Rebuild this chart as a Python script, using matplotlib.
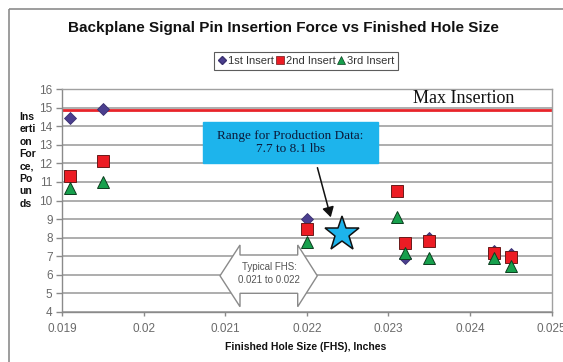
import matplotlib
matplotlib.use("Agg")
import matplotlib.pyplot as plt
from matplotlib.patches import Polygon, Rectangle, FancyArrowPatch
from matplotlib.lines import Line2D
import matplotlib.transforms as mtransforms

# ---- data ----
x1 = [0.0191, 0.0195, 0.0220, 0.0232, 0.0235, 0.0243, 0.0245]
y1 = [14.45, 14.95, 9.0, 6.9, 8.0, 7.3, 7.1]
x2 = [0.0191, 0.0195, 0.0220, 0.0231, 0.0232, 0.0235, 0.0243, 0.0245]
y2 = [11.3, 12.15, 8.45, 10.5, 7.7, 7.8, 7.15, 6.95]
x3 = [0.0191, 0.0195, 0.0220, 0.0231, 0.0232, 0.0235, 0.0243, 0.0245]
y3 = [10.65, 11.0, 7.75, 9.1, 7.2, 6.9, 6.9, 6.45]
series_names = ["1st Insert", "2nd Insert", "3rd Insert"]
max_insertion = 14.85
star_x = [0.02243]
star_y = [8.2]
x_ticks = [0.019, 0.020, 0.021, 0.022, 0.023, 0.024, 0.025]
x_ticklabels = ["0.019", "0.02", "0.021", "0.022", "0.023", "0.024", "0.025"]
y_ticks = list(range(4, 17))

W, H = 563, 362
plt.rcParams['font.family'] = ['Liberation Sans', 'DejaVu Sans']
fig = plt.figure(figsize=(W / 100, H / 100), dpi=100)
fig.patch.set_facecolor("white")

# pixel (top-left origin) -> figure transform
px = mtransforms.Affine2D().scale(1 / W, -1 / H).translate(0, 1) + fig.transFigure

L, R, T, B = 62.3, 551.5, 89.0, 312.0
ax = fig.add_axes([L / W, 1 - B / H, (R - L) / W, (B - T) / H])
ax.set_xlim(0.019, 0.025)
ax.set_ylim(4, 16)

# outer chart frame
fig.patches.append(Rectangle((9, 9), 600, 400, transform=px, fill=False,
                             edgecolor="#8c8c8c", lw=1.2, zorder=0))

for s in ax.spines.values():
    s.set_color("#a0a0a0")
    s.set_linewidth(1.0)
ax.spines["left"].set_color("#8a8a8a")
ax.spines["bottom"].set_color("#8a8a8a")

ax.set_yticks(y_ticks)
ax.set_xticks(x_ticks)
ax.set_xticklabels(x_ticklabels)
ax.tick_params(axis="both", colors="#8a8a8a", labelcolor="#6a6a6a",
               labelsize=8.5, width=1, direction="out")
ax.tick_params(axis="x", pad=5, length=3)
ax.tick_params(axis="y", pad=3, length=4)
ax.grid(axis="y", color="#a0a0a0", lw=1.2)
ax.set_axisbelow(True)

# max insertion line
ax.axhline(max_insertion, color="#e8242a", lw=2, zorder=2)
ax.text(0.0233, 15.05, "Max Insertion", family="Liberation Serif",
        fontsize=13, color="#111111", va="bottom", ha="left", zorder=3)

ms = 8
ax.plot(x1, y1, ls="none", marker="D", ms=6.5, mfc="#4b3f8f", mec="#3a3070",
        mew=0.6, label=series_names[0], zorder=4)
ax.plot(x2, y2, ls="none", marker="s", ms=ms, mfc="#ec1c24", mec="#6a1a1a",
        mew=0.7, label=series_names[1], zorder=5)
ax.plot(x3, y3, ls="none", marker="^", ms=ms + 0.5, mfc="#17a04d", mec="#0c3d1e",
        mew=0.7, label=series_names[2], zorder=6)

# star
ax.plot(star_x, star_y, ls="none", marker="*", ms=26, mfc="#1db4ec",
        mec="#111111", mew=1.1, zorder=7)

# callout box
fig.patches.append(Rectangle((202.7, 121.7), 175.6, 41.6, transform=px,
                             facecolor="#1db4ec", edgecolor="#1db4ec", zorder=8))
fig.text(290.5, 142.5, "Range for Production Data:\n7.7 to 8.1 lbs", transform=px,
         family="Liberation Serif", fontsize=9.5, color="#0b1a3a",
         ha="center", va="center", linespacing=1.15, zorder=9)
fig.patches.append(FancyArrowPatch((316.7, 165), (331.5, 220), transform=px,
                                   arrowstyle="-|>,head_length=6,head_width=3.5",
                                   color="#111111", lw=1.1, zorder=9))

# typical FHS double arrow
pts = [(220, 275.8), (240, 245), (240, 255), (297.7, 255), (297.7, 245),
       (317.3, 275.8), (297.7, 306.7), (297.7, 293.3), (240, 293.3), (240, 306.7)]
fig.patches.append(Polygon(pts, closed=True, transform=px, facecolor="white",
                           edgecolor="#8a8a8a", lw=1.0, zorder=8))
fig.text(269, 273.5, "Typical FHS:\n0.021 to 0.022", transform=px, fontsize=7,
         color="#555555", ha="center", va="center", linespacing=1.3, zorder=9)

# title and labels
fig.text(283, 28, "Backplane Signal Pin Insertion Force vs Finished Hole Size",
         transform=px, fontsize=11, fontweight="bold", ha="center", va="center",
         color="#111111")
fig.text(306, 347, "Finished Hole Size (FHS), Inches", transform=px, fontsize=7.5,
         fontweight="bold", ha="center", va="center", color="#111111")
fig.text(19.5, 112, "Ins\nerti\non\nFor\nce,\nPo\nun\nds", transform=px,
         fontsize=7.5, fontweight="bold", ha="left", va="top", color="#111111",
         linespacing=1.3)

# legend
h1 = Line2D([], [], ls="none", marker="D", ms=4.5, mfc="#4b3f8f", mec="#3a3070")
h2 = Line2D([], [], ls="none", marker="s", ms=5.5, mfc="#ec1c24", mec="#6a1a1a", mew=0.5)
h3 = Line2D([], [], ls="none", marker="^", ms=6, mfc="#17a04d", mec="#0c3d1e", mew=0.5)
leg = fig.legend([h1, h2, h3], series_names, ncol=3, loc="center",
                 bbox_to_anchor=(306 / W, 1 - 61 / H), frameon=True, fancybox=False,
                 fontsize=8, handlelength=0.8, handletextpad=0.15,
                 columnspacing=0.1, borderpad=0.35, borderaxespad=0)
leg.get_frame().set_edgecolor("#333333")
leg.get_frame().set_linewidth(0.8)
for t in leg.get_texts():
    t.set_color("#333333")

fig.savefig("out.png", dpi=100)
